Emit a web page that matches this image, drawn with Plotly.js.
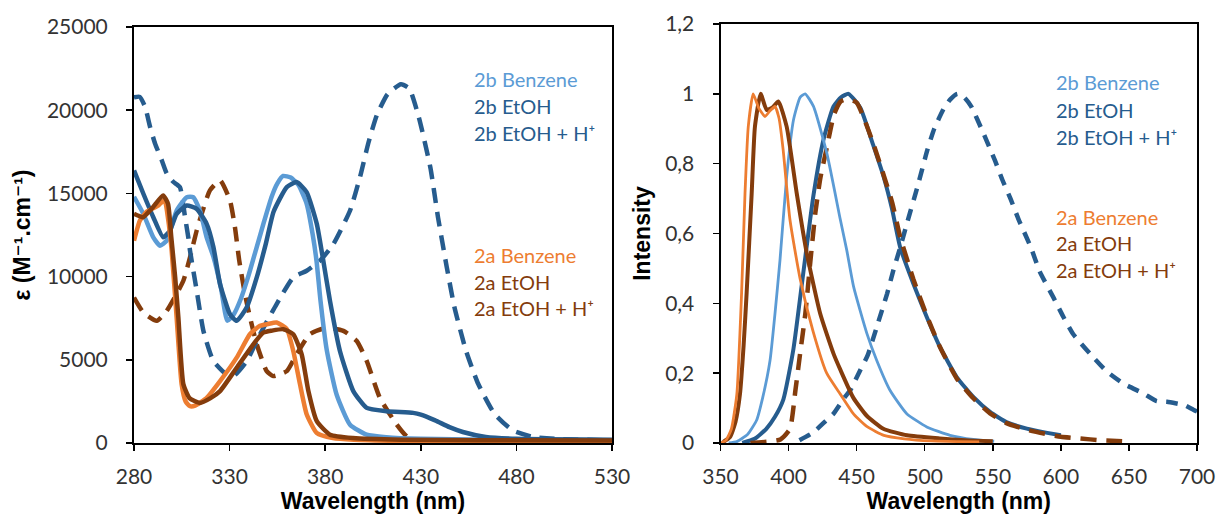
<!DOCTYPE html>
<html>
<head>
<meta charset="utf-8">
<script src="https://cdn.plot.ly/plotly-3.0.1.min.js"></script>
<style>html,body{margin:0;padding:0;background:#fff;}#chart{width:1219px;height:514px;}</style>
</head>
<body>
<div id="chart"></div>
<script>
// ---------- Absorption (left) ----------
const absBenzene2bX = [280,284.9,290.1,293.6,297.1,302.3,307.6,311,314.5,318,321.5,325.5,328.8,332,336,340,344,348,352,355,358,362,366,370.3,373.5,375.5,377.5,380.8,386,393,401.7,412,430,480,530];
const absBenzene2bY = [14800,13770,12360,11860,12160,13970,14770,14770,13970,12360,11200,9300,7350,7700,8700,10100,11700,13300,14800,15600,16050,15950,15500,14380,12500,10900,8600,5600,2900,1100,500,350,250,180,130];

const absEtOH2bX = [280,284.9,290.1,295.3,298.8,302.3,307.6,312.8,318,321.5,325,330.2,333.7,338.9,344.2,349,353,359.9,365,370.3,375.6,378.5,382.5,387.7,394.7,401.7,412,426,430,437.5,445,452,464,480,530];
const absEtOH2bY = [16380,14980,13570,12360,12770,13770,14270,14070,13170,11800,9550,7740,7340,8140,9950,12000,13900,15380,15680,15080,13170,11300,8540,5530,3120,2110,1910,1810,1710,1360,950,660,360,250,200];

const absH2bX = [280,283,285.8,288.4,291,294.5,297.1,300.5,304,306.7,308.4,309.3,312.8,316.3,321.5,328.5,332,339,345.9,354.6,363.3,370.3,377.3,384.3,393,398.2,402.5,407,412.6,419.6,424,429,435,439,443.6,447.6,453.6,460,468.5,478,489,500,530];
const absH2bY = [20770,20800,20200,19000,18000,17000,16200,15700,15380,13570,12360,11560,9150,6740,4930,4120,4020,4930,6540,8350,9950,10350,10960,11960,13970,15980,18000,19700,20960,21560,21300,19560,16560,13560,10560,8160,5560,3560,1760,760,360,250,150];

const absBenzene2aX = [280,283.1,286.6,290,293,296,297.8,299.7,302.3,304.9,307,309.3,312,318,325,333.7,340.7,345.9,350,354.6,359.9,363.3,366.8,370.3,375.6,384,395,420,460,530];
const absBenzene2aY = [12160,13370,13900,14100,14300,14600,13500,11560,7540,3540,2500,2210,2250,2710,3720,5130,6550,7040,7150,7240,6850,5530,3540,1730,600,300,200,130,80,50];

const absEtOH2aX = [280,284.7,289.9,295.2,297.8,299.5,301.5,303.2,305.8,309,314.5,320,325,333.7,342.4,347.6,352,358.1,363.3,367.7,371.2,375.6,382.5,394.5,420,460,530];
const absEtOH2aY = [13770,13570,14170,14880,14370,12360,10000,7540,3540,2700,2410,2700,3120,4520,5930,6630,6750,6840,6540,5330,3120,1310,500,300,200,170,150];

const absH2aX = [280,284.9,291.9,297.1,305.8,309.3,312.8,315.4,319.7,325,330.2,332.8,335,338,340.7,344.2,349.4,352.8,359.9,365,372,380.8,389.5,396.5,401.7,408.6,417.4,422.6,425];
const absH2aY = [8740,7840,7340,7940,9750,11160,12770,13770,15180,15780,14570,12960,11000,8950,7540,5930,4320,4020,4320,5330,6540,6930,6740,6130,4930,2710,1110,400,250];

// ---------- Emission (right) ----------
const emBenzene2aX = [350,354,358,362,365.5,368,370.4,374,378,382.7,386,390,393,396,401,408.5,418,428,438,448,458,470,485,505,525,540];
const emBenzene2aY = [0,0.008,0.04,0.14,0.43,0.715,0.906,1.0,0.96,0.935,0.95,0.964,0.93,0.84,0.64,0.47,0.32,0.2,0.14,0.082,0.046,0.022,0.012,0.006,0.004,0.003];

const emEtOH2aX = [352,357,361,364.3,367,369.2,372.9,375.3,379.5,383.9,388,392.5,398.6,406,413.4,423.2,433,438,447.5,457.4,469.6,487,511,530,550];
const emEtOH2aY = [0.003,0.017,0.06,0.14,0.28,0.43,0.715,0.906,1.0,0.954,0.96,0.978,0.906,0.715,0.543,0.371,0.256,0.21,0.13,0.078,0.041,0.022,0.013,0.008,0.005];

const emBenzene2bX = [356,362,370,376.5,381,386.4,390,393.7,398.6,403.6,408.5,412.2,418.3,428.1,438,442.7,447.8,457.5,464.7,474.5,486.8,501.5,518.6,535.7,551];
const emBenzene2bY = [0,0.004,0.025,0.065,0.13,0.237,0.37,0.524,0.763,0.925,0.99,1.0,0.964,0.83,0.64,0.553,0.447,0.314,0.237,0.151,0.084,0.046,0.022,0.01,0.005];

const emEtOH2bX = [366,375,383.5,390,396.2,403.6,410.9,418.3,425.7,433,438.5,444,452.7,462,470,476,482,491.6,501.5,511.2,523.5,535.7,548,560,575,590,600];
const emEtOH2bY = [0,0.012,0.04,0.075,0.125,0.27,0.49,0.71,0.87,0.964,0.99,1.0,0.96,0.855,0.76,0.67,0.56,0.457,0.361,0.275,0.189,0.132,0.089,0.06,0.041,0.029,0.022];

const emH2aX = [372,385,394,401,405,408.6,412.3,416,419.7,423.4,428.3,433.3,438.2,443,450,462,476,482,491.6,501.5,511.2,523.5,535.7,548,560,575,590,600,614,629,645];
const emH2aY = [0,0.004,0.01,0.04,0.15,0.26,0.37,0.52,0.66,0.76,0.85,0.94,0.978,0.985,0.975,0.86,0.69,0.59,0.47,0.365,0.275,0.185,0.128,0.085,0.057,0.038,0.025,0.018,0.013,0.008,0.005];

const emH2bX = [408,418,427,433,441,445.3,452.8,458,465,472.4,477,482,487,494.4,502,507,514.3,519,524,529,534,542.8,551.5,557,563,569,578,584.6,594.5,602,609,621.4,633.7,646,660.6,670.4,678,685,691,697.3,700];
const emH2bY = [0.008,0.03,0.062,0.084,0.13,0.151,0.21,0.25,0.335,0.428,0.495,0.56,0.63,0.73,0.84,0.9,0.96,0.985,1.0,0.99,0.965,0.89,0.81,0.754,0.70,0.64,0.56,0.49,0.417,0.36,0.312,0.256,0.205,0.17,0.142,0.12,0.118,0.113,0.108,0.095,0.09];

// ---------- Ticks & labels ----------
const absXTicks = [280,330,380,430,480,530];
const absYTicks = [0,5000,10000,15000,20000,25000];
const absYTickText = ['0','5000','10000','15000','20000','25000'];
const emXTicks = [350,400,450,500,550,600,650,700];
const emYTicks = [0,0.2,0.4,0.6,0.8,1,1.2];
const emYTickText = ['0','0,2','0,4','0,6','0,8','1','1,2'];

const seriesNames = ['2b Benzene','2b EtOH','2b EtOH + H⁺','2a Benzene','2a EtOH','2a EtOH + H⁺'];
const absYTitle = 'ε (M⁻¹.cm⁻¹)';
const emYTitle = 'Intensity';
const xTitle = 'Wavelength (nm)';

const C_LB = '#5B9BD5', C_DB = '#265C8E', C_OR = '#ED7D31', C_BR = '#843C0C';
const legendColors = [C_LB, C_DB, C_DB, C_OR, C_BR, C_BR];

function tr(x, y, name, color, width, dash, xa, ya) {
  return {x: x, y: y, name: name, type: 'scatter', mode: 'lines', xaxis: xa, yaxis: ya,
    line: {color: color, width: width, dash: dash || 'solid', shape: 'spline', smoothing: 0.5},
    showlegend: false, hoverinfo: 'skip'};
}

const LD = '15px,9px';
const data = [
  tr(absH2aX, absH2aY, seriesNames[5], C_BR, 4.5, LD, 'x', 'y'),
  tr(absH2bX, absH2bY, seriesNames[2], C_DB, 4.5, LD, 'x', 'y'),
  tr(absBenzene2bX, absBenzene2bY, seriesNames[0], C_LB, 4.5, null, 'x', 'y'),
  tr(absEtOH2bX, absEtOH2bY, seriesNames[1], C_DB, 4.5, null, 'x', 'y'),
  tr(absBenzene2aX, absBenzene2aY, seriesNames[3], C_OR, 4.5, null, 'x', 'y'),
  tr(absEtOH2aX, absEtOH2aY, seriesNames[4], C_BR, 4.5, null, 'x', 'y'),

  tr(emH2bX, emH2bY, seriesNames[2], C_DB, 4.5, '12px,9px', 'x2', 'y2'),
  tr(emEtOH2bX, emEtOH2bY, seriesNames[1], C_DB, 4, null, 'x2', 'y2'),
  tr(emH2aX, emH2aY, seriesNames[5], C_BR, 4.5, '16px,10px', 'x2', 'y2'),
  tr(emBenzene2bX, emBenzene2bY, seriesNames[0], C_LB, 2.8, null, 'x2', 'y2'),
  tr(emEtOH2aX, emEtOH2aY, seriesNames[4], C_BR, 4, null, 'x2', 'y2'),
  tr(emBenzene2aX, emBenzene2aY, seriesNames[3], C_OR, 2.8, null, 'x2', 'y2')
];

const tickFont = {family: 'Lato, "Open Sans", sans-serif', size: 21, color: '#333333'};
const titleFont = {family: '"Liberation Sans", Arial, "DejaVu Sans", sans-serif', size: 23, color: '#000000', weight: 700};

function axisBase() {
  return {showline: true, mirror: true, linecolor: '#000', linewidth: 2,
    ticks: 'outside', ticklen: 6, tickwidth: 1.5, tickcolor: '#000',
    showgrid: false, zeroline: false, tickfont: tickFont, tickmode: 'array'};
}

const W = 1219, H = 514, ML = 134, MR = 22, MT = 24, MB = 71;
const PW = W - ML - MR, PH = H - MT - MB;
function px2x(px) { return (px - ML) / PW; }
function py2y(py) { return (H - MB - py) / PH; }

const layout = {
  width: W, height: H,
  margin: {l: ML, r: MR, t: MT, b: MB, pad: 0},
  paper_bgcolor: '#fff', plot_bgcolor: '#fff',
  showlegend: false,
  xaxis: Object.assign(axisBase(), {domain: [0, px2x(612)], range: [280, 530], tickvals: absXTicks,
    ticklabelstandoff: 8, anchor: 'y',
    title: {text: xTitle, font: titleFont, standoff: 4}}),
  yaxis: Object.assign(axisBase(), {domain: [0, py2y(27)], range: [0, 25000], tickvals: absYTicks, ticktext: absYTickText,
    ticklabelstandoff: 14, anchor: 'x',
    title: {text: absYTitle, font: titleFont, standoff: 10}}),
  xaxis2: Object.assign(axisBase(), {domain: [px2x(720.5), 1], range: [350, 700], tickvals: emXTicks,
    ticklabelstandoff: 8, anchor: 'y2',
    title: {text: xTitle, font: titleFont, standoff: 4}}),
  yaxis2: Object.assign(axisBase(), {domain: [0, 1], range: [0, 1.2], tickvals: emYTicks, ticktext: emYTickText,
    ticklabelstandoff: 14, anchor: 'x2',
    title: {text: emYTitle, font: titleFont, standoff: 8}}),
  annotations: []
};

const legLeftY = [79, 106, 133, 255, 282, 308];
const legRightY = [82, 110, 137, 217, 243, 270];
const legFont = 'Lato, "Open Sans", "DejaVu Sans", sans-serif';
seriesNames.forEach(function (n, i) {
  layout.annotations.push({xref: 'paper', yref: 'paper', x: px2x(472), y: py2y(legLeftY[i]),
    xanchor: 'left', yanchor: 'middle', showarrow: false, text: n,
    font: {family: legFont, size: 20, color: legendColors[i]}});
  layout.annotations.push({xref: 'paper', yref: 'paper', x: px2x(1054), y: py2y(legRightY[i]),
    xanchor: 'left', yanchor: 'middle', showarrow: false, text: n,
    font: {family: legFont, size: 20, color: legendColors[i]}});
});

Plotly.newPlot('chart', data, layout, {staticPlot: true, displayModeBar: false});
</script>
</body>
</html>
